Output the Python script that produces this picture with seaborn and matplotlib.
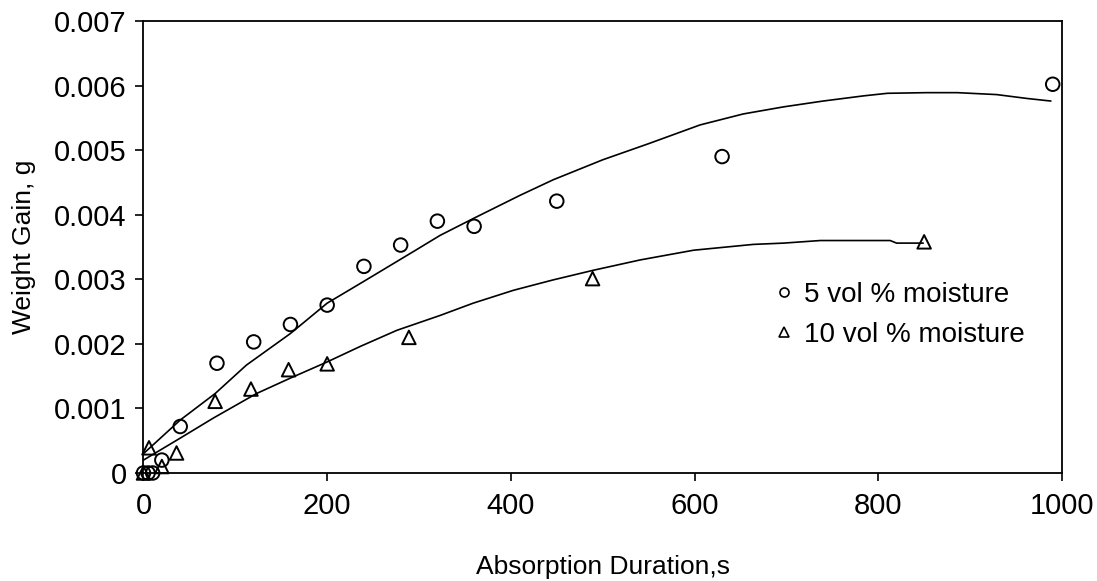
import matplotlib
matplotlib.use("Agg")
import matplotlib.pyplot as plt
import seaborn as sns
import pandas as pd
from matplotlib.ticker import FuncFormatter, MultipleLocator

# ---- data ----
x_5 = [0, 5, 10, 20, 40, 80, 120, 160, 200, 240, 280, 320, 360, 450, 630, 990]
y_5 = [0, 0, 0, 0.0002, 0.00072, 0.0017, 0.00203, 0.0023, 0.0026, 0.0032,
       0.00353, 0.0039, 0.00382, 0.00421, 0.0049, 0.00602]

x_10 = [0, 6, 20, 36, 78, 117, 158, 200, 289, 489, 850]
y_10 = [0, 0.00039, 0.0001, 0.00031, 0.00111, 0.0013, 0.0016, 0.00169,
        0.0021, 0.00301, 0.00358]

fit5_x = [0, 40, 78, 112, 160, 200, 239, 294, 323, 359, 410, 446, 500, 550,
          606, 653, 697, 740, 784, 810, 853, 886, 929, 962, 988]
fit5_y = [0.0003, 0.00082, 0.00123, 0.00167, 0.00216, 0.00263, 0.00296,
          0.00343, 0.00368, 0.00394, 0.0043, 0.00454, 0.00485, 0.0051,
          0.00539, 0.00556, 0.00567, 0.00576, 0.00584, 0.00588, 0.00589,
          0.00589, 0.00586, 0.0058, 0.00576]

fit10_x = [0, 40, 76, 123, 160, 200, 236, 276, 323, 359, 403, 446, 490, 541,
           599, 664, 697, 737, 813, 820, 849]
fit10_y = [0.0002, 0.00054, 0.00085, 0.00123, 0.00147, 0.00172, 0.00196,
           0.00221, 0.00244, 0.00263, 0.00283, 0.00299, 0.00314, 0.0033,
           0.00345, 0.00354, 0.00356, 0.0036, 0.0036, 0.00356, 0.00356]

labels = ["5 vol % moisture", "10 vol % moisture"]
x_ticks = [0, 200, 400, 600, 800, 1000]

sns.set_style("white")
plt.rcParams["font.family"] = ["Liberation Sans", "DejaVu Sans"]
plt.rcParams["text.color"] = "black"
plt.rcParams["axes.labelcolor"] = "black"
plt.rcParams["xtick.color"] = "black"
plt.rcParams["ytick.color"] = "black"

fig = plt.figure(figsize=(10.97, 5.81), dpi=100)
ax = fig.add_axes([0.1308, 0.1859, 0.968 - 0.1308, 0.9639 - 0.1859])

df5 = pd.DataFrame({"x": x_5, "y": y_5})
df10 = pd.DataFrame({"x": x_10, "y": y_10})
f5 = pd.DataFrame({"x": fit5_x, "y": fit5_y})
f10 = pd.DataFrame({"x": fit10_x, "y": fit10_y})

sns.lineplot(data=f5, x="x", y="y", ax=ax, color="black", lw=1.2,
             sort=False, legend=False)
sns.lineplot(data=f10, x="x", y="y", ax=ax, color="black", lw=1.2,
             sort=False, legend=False)
sns.scatterplot(data=df5, x="x", y="y", ax=ax, marker="o", s=95,
                facecolor="none", edgecolor="black", linewidth=1.4,
                clip_on=False, zorder=3)
sns.scatterplot(data=df10, x="x", y="y", ax=ax, marker="^", s=95,
                facecolor="none", edgecolor="black", linewidth=1.4,
                clip_on=False, zorder=3)

ax.set_xlim(0, 1000)
ax.set_ylim(0, 0.007)
ax.set_xticks(x_ticks)
ax.yaxis.set_major_locator(MultipleLocator(0.001))
ax.yaxis.set_major_formatter(FuncFormatter(lambda v, p: "0" if abs(v) < 1e-9 else f"{v:.3f}"))
ax.tick_params(axis="both", direction="out", length=6, width=1.2,
               color="black", labelcolor="black", labelsize=21,
               left=True, bottom=True)
ax.tick_params(axis="x", pad=8)
ax.tick_params(axis="y", pad=6)
for s in ax.spines.values():
    s.set_color("black")
    s.set_linewidth(1.3)

ax.set_xlabel("Absorption Duration,s", fontsize=19, color="black")
ax.set_ylabel("Weight Gain, g", fontsize=19, color="black")
ax.xaxis.set_label_coords(0.5, (473 - 567) / 452)
ax.yaxis.set_label_coords((24 - 143.5) / 918.5, 0.5)
ax.xaxis.label.set_va("center")
ax.yaxis.label.set_va("center")

h1 = plt.Line2D([], [], ls="none", marker="o", ms=6.5, mfc="none", mec="black", mew=1.2)
h2 = plt.Line2D([], [], ls="none", marker="^", ms=6.5, mfc="none", mec="black", mew=1.2)
leg = ax.legend([h1, h2], labels, loc="upper left",
                bbox_to_anchor=((775.7 - 143.5) / 918.5, (473 - 282) / 452),
                frameon=False, fontsize=20, handlelength=0.6, handletextpad=0.42,
                labelspacing=0.49, borderaxespad=0, borderpad=0)
for t in leg.get_texts():
    t.set_color("black")

fig.savefig("out.png", dpi=100)
